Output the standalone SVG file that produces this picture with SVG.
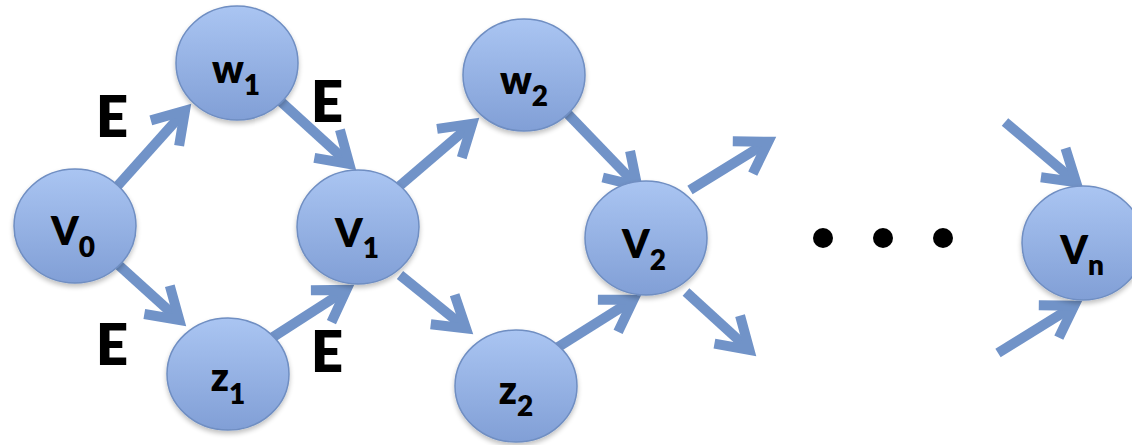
<svg xmlns="http://www.w3.org/2000/svg" width="1132" height="445" viewBox="0 0 1132 445">
  <style>
    .edge { fill: none; stroke: #7193c8; stroke-width: 10; stroke-linecap: butt; marker-end: url(#head); }
    .node { fill: url(#ball); stroke: #6f8ec2; stroke-width: 1.5; filter: url(#shade); }
    .lbl { font-family: Lato, "Liberation Sans", sans-serif; font-weight: 800; font-size: 39px; fill: #000; text-anchor: middle; }
    .sub { font-size: 28px; }
    .e { font-family: Lato, "Liberation Sans", sans-serif; font-weight: 800; font-size: 56px; fill: #000; }
    .dot { fill: #000; }
  </style>
  <defs>
    <linearGradient id="ball" x1="0" y1="0" x2="0" y2="1">
      <stop offset="0" stop-color="#aac5f2"/>
      <stop offset="1" stop-color="#819fd6"/>
    </linearGradient>
    <filter id="shade" x="-20%" y="-20%" width="140%" height="150%">
      <feGaussianBlur in="SourceAlpha" stdDeviation="2.5"/>
      <feOffset dx="0" dy="3" result="b"/>
      <feComponentTransfer><feFuncA type="linear" slope="0.25"/></feComponentTransfer>
      <feMerge><feMergeNode/><feMergeNode in="SourceGraphic"/></feMerge>
    </filter>
    <!-- open chevron head; the mitred point reaches ~9px past the path end -->
    <marker id="head" markerUnits="userSpaceOnUse" orient="auto" overflow="visible" markerWidth="40" markerHeight="40" refX="0" refY="0">
      <path d="M -30 -19 L 0 0 L -30 19" fill="none" stroke="#7193c8" stroke-width="10" stroke-linejoin="miter" stroke-miterlimit="10"/>
    </marker>
  </defs>

  <rect width="1132" height="445" fill="#ffffff"/>

  <g id="connectors">
    <path class="edge" d="M 113 191 L 185 110.7"/>
    <path class="edge" d="M 278 99 L 349.3 164"/>
    <path class="edge" d="M 113 260 L 179.3 320"/>
    <path class="edge" d="M 270 339 L 346.4 289.9"/>
    <path class="edge" d="M 396 189 L 472.2 123.8"/>
    <path class="edge" d="M 564 110 L 637.2 185.9"/>
    <path class="edge" d="M 400 275 L 466 328.4"/>
    <path class="edge" d="M 555 349 L 633.4 299.8"/>
    <path class="edge" d="M 690 190 L 768.3 141.7"/>
    <path class="edge" d="M 686 292 L 749.4 349.9"/>
    <path class="edge" d="M 1005 122 L 1076.1 182.2"/>
    <path class="edge" d="M 998 353 L 1074.3 305.7"/>
  </g>

  <g id="v0">
    <ellipse class="node" cx="75" cy="226" rx="61" ry="57"/>
    <text class="lbl" x="73" y="245">V<tspan class="sub" dy="12">0</tspan></text>
  </g>
  <g id="w1">
    <ellipse class="node" cx="237" cy="63" rx="61" ry="57"/>
    <text class="lbl" x="236" y="83">w<tspan class="sub" dy="12">1</tspan></text>
  </g>
  <g id="z1">
    <ellipse class="node" cx="228" cy="374" rx="61" ry="56"/>
    <text class="lbl" x="228" y="391">z<tspan class="sub" dy="13">1</tspan></text>
  </g>
  <g id="v1">
    <ellipse class="node" cx="358" cy="227" rx="61" ry="57"/>
    <text class="lbl" x="357" y="247">V<tspan class="sub" dy="11">1</tspan></text>
  </g>
  <g id="w2">
    <ellipse class="node" cx="524" cy="75" rx="61" ry="56"/>
    <text class="lbl" x="524" y="94">w<tspan class="sub" dy="12">2</tspan></text>
  </g>
  <g id="z2">
    <ellipse class="node" cx="516" cy="386" rx="61" ry="56"/>
    <text class="lbl" x="516" y="404">z<tspan class="sub" dy="12">2</tspan></text>
  </g>
  <g id="v2">
    <ellipse class="node" cx="646" cy="238" rx="61" ry="57"/>
    <text class="lbl" x="644" y="258">V<tspan class="sub" dy="12">2</tspan></text>
  </g>
  <g id="vn">
    <ellipse class="node" cx="1083" cy="243" rx="61" ry="57"/>
    <text class="lbl" x="1082" y="264">V<tspan class="sub" dy="11">n</tspan></text>
  </g>

  <g id="ellipsis">
    <circle class="dot" cx="823" cy="238" r="10"/>
    <circle class="dot" cx="883" cy="238" r="10"/>
    <circle class="dot" cx="943" cy="238" r="10"/>
  </g>

  <g id="edge-labels">
    <text class="e" x="96" y="137">E</text>
    <text class="e" x="311" y="122">E</text>
    <text class="e" x="96" y="365">E</text>
    <text class="e" x="311" y="372">E</text>
  </g>
</svg>
